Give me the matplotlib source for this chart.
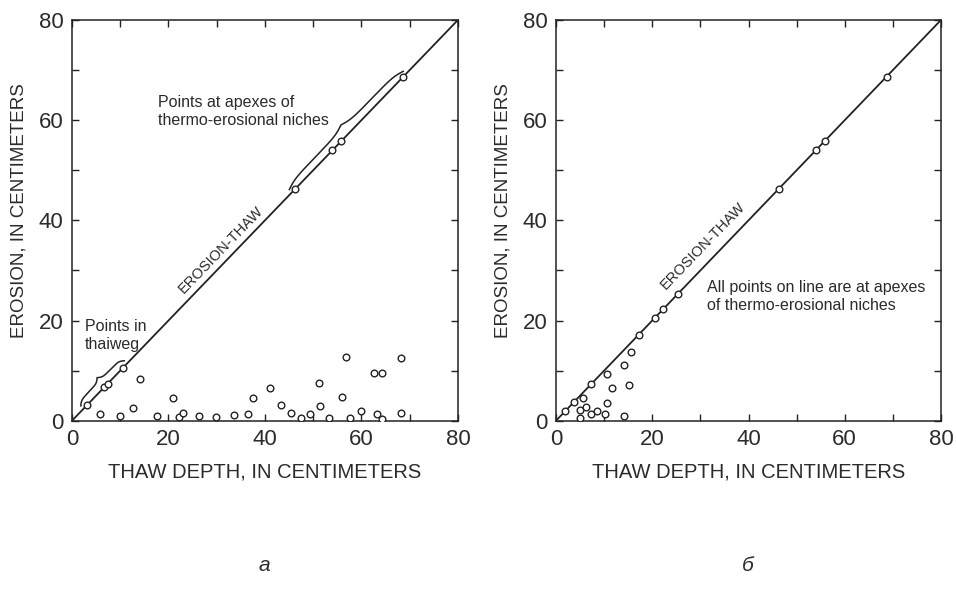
import numpy as np
import matplotlib
matplotlib.use("Agg")
import matplotlib.pyplot as plt

plt.rcParams["font.family"] = ["Liberation Sans", "DejaVu Sans"]

# Panel a: points on the erosion = thaw line
a_thalweg_x = [3.2, 6.7, 7.4, 10.6]
a_thalweg_y = [3.2, 6.7, 7.4, 10.6]
a_niche_x = [46.3, 54.0, 55.8, 68.7]
a_niche_y = [46.3, 54.0, 55.8, 68.7]
# Panel a: points below the line
a_other_x = [5.8, 10.0, 12.6, 14.0, 17.6, 20.9, 22.2, 23.0, 26.4, 29.8,
             33.5, 36.5, 37.6, 41.0, 43.3, 45.5, 47.4, 49.3, 51.3, 51.5,
             53.2, 55.9, 56.8, 57.6, 60.0, 62.7, 63.2, 64.3, 64.3, 68.3, 68.3]
a_other_y = [1.4, 0.9, 2.6, 8.3, 0.9, 4.6, 0.7, 1.6, 0.9, 0.7,
             1.1, 1.4, 4.5, 6.6, 3.1, 1.6, 0.6, 1.4, 7.5, 3.0,
             0.6, 4.8, 12.7, 0.6, 1.9, 9.5, 1.4, 9.5, 0.4, 12.5, 1.6]

# Panel b
b_line_x = [1.9, 3.8, 7.3, 17.2, 20.6, 22.3, 25.3, 46.3, 54.0, 55.8, 68.7]
b_line_y = [1.9, 3.8, 7.3, 17.2, 20.6, 22.3, 25.3, 46.3, 54.0, 55.8, 68.7]
b_other_x = [5.7, 5.0, 6.3, 5.0, 7.3, 8.5, 10.2, 10.5, 11.6, 10.5, 14.1, 14.1, 15.1, 15.6]
b_other_y = [4.6, 2.1, 2.7, 0.5, 1.3, 1.9, 1.3, 9.3, 6.6, 3.6, 11.2, 0.9, 7.1, 13.8]

ink = "#222222"
txt = "#2b2b2b"


def brace(ax, s0, s1, scale):
    # curly brace lying parallel to the 1:1 line, on its upper-left side
    t = np.linspace(0, 0.5, 200)
    beta = 28
    half = 1 / (1 + np.exp(-beta * (t - t[0]))) + 1 / (1 + np.exp(-beta * (t - t[-1])))
    v = np.concatenate((half, half[-2::-1])) * scale
    s = np.linspace(s0, s1, len(v))
    ax.plot(s - v / np.sqrt(2), s + v / np.sqrt(2), color=ink, lw=1.1)


def style(ax):
    ax.set_xlim(0, 80)
    ax.set_ylim(0, 80)
    ax.set_xticks(np.arange(0, 81, 20))
    ax.set_yticks(np.arange(0, 81, 20))
    ax.set_xticks(np.arange(10, 80, 20), minor=True)
    ax.set_yticks(np.arange(10, 80, 20), minor=True)
    ax.tick_params(which="both", direction="in", length=5, width=1, color=ink,
                   top=True, right=True, labelsize=16, labelcolor=txt, pad=6)
    for sp in ax.spines.values():
        sp.set_color(ink)
        sp.set_linewidth(1.1)
    ax.set_xlabel("THAW DEPTH, IN CENTIMETERS", fontsize=14.5, color=txt, labelpad=9)
    ax.set_ylabel("EROSION, IN CENTIMETERS", fontsize=13.5, color=txt)
    ax.yaxis.set_label_coords(-0.115, 0.525)
    ax.plot([0, 80], [0, 80], color=ink, lw=1.3, zorder=2)


fig = plt.figure(figsize=(9.56, 6), dpi=100)
ax1 = fig.add_axes([0.0753, 0.2988, 0.4037, 0.6679])
ax2 = fig.add_axes([0.5816, 0.2988, 0.4027, 0.6679])

mk = dict(ls="none", marker="o", ms=4.8, mfc="white", mec=ink, mew=1.0, zorder=3)

# panel a
style(ax1)
ax1.plot(a_thalweg_x, a_thalweg_y, **mk)
ax1.plot(a_niche_x, a_niche_y, **mk)
ax1.plot(a_other_x, a_other_y, **mk)
brace(ax1, min(a_thalweg_x) - 0.8, max(a_thalweg_x) + 0.8, 1.6)
brace(ax1, min(a_niche_x) - 0.7, max(a_niche_x) + 0.5, 1.55)
ax1.text(30.9, 34.2, "EROSION-THAW", rotation=46, ha="center", va="center",
         fontsize=10.5, color=txt, rotation_mode="anchor")
ax1.text(17.8, 61.8, "Points at apexes of\nthermo-erosional niches", ha="left",
         va="center", fontsize=11.5, color=txt, linespacing=1.25)
ax1.text(2.7, 17.1, "Points in\nthaiweg", ha="left", va="center",
         fontsize=11.5, color=txt, linespacing=1.25)

# panel b
style(ax2)
ax2.plot(b_line_x, b_line_y, **mk)
ax2.plot(b_other_x, b_other_y, **mk)
ax2.text(30.6, 35.0, "EROSION-THAW", rotation=46, ha="center", va="center",
         fontsize=10.5, color=txt, rotation_mode="anchor")
ax2.text(31.4, 24.7, "All points on line are at apexes\nof thermo-erosional niches",
         ha="left", va="center", fontsize=11.5, color=txt, linespacing=1.25)

fig.text(0.277, 0.058, "а", style="italic", fontsize=15, color=txt, ha="center", va="center")
fig.text(0.782, 0.058, "б", style="italic", fontsize=15, color=txt, ha="center", va="center")

fig.savefig("out.png", dpi=100)
